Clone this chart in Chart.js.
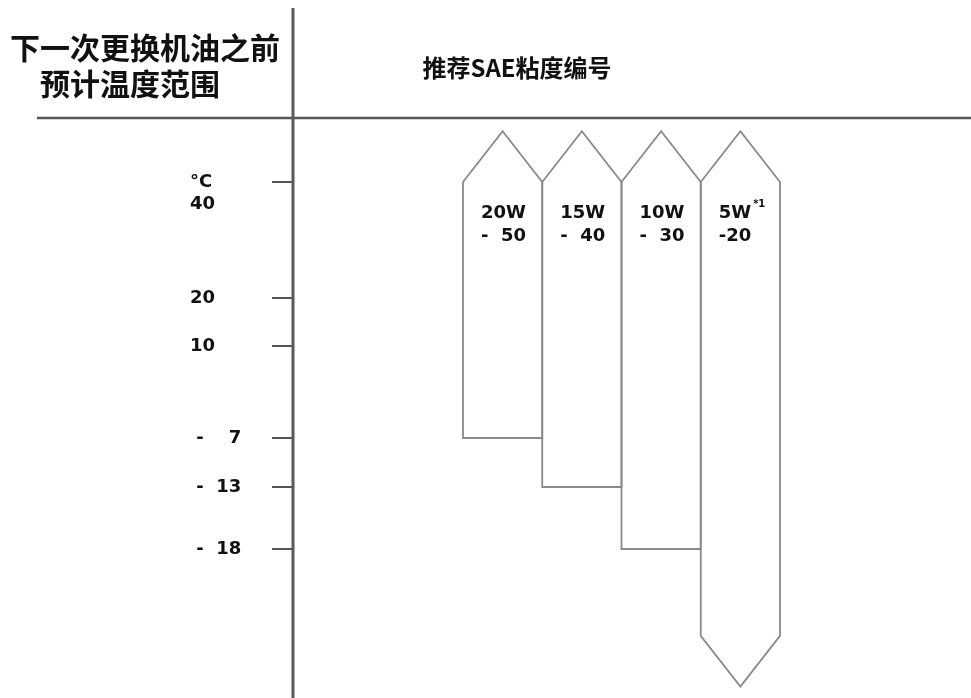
<!DOCTYPE html>
<html>
<head>
<meta charset="utf-8">
<title>推荐SAE粘度编号</title>
<script src="https://cdn.jsdelivr.net/npm/chart.js@4.4.1/dist/chart.umd.min.js"></script>
<style>
    html, body { margin: 0; padding: 0; background: #fff; }
    #wrap { width: 971px; height: 698px; }
</style>
</head>
<body>
<div id="wrap"><canvas id="graphCanvas"></canvas></div>
<script>
// header texts
const leftHeader = ['下一次更换机油之前', '预计温度范围'];
const rightHeader = '推荐SAE粘度编号';

// oil grades and the temperature range (°C) each one covers
const grades = ['20W', '15W', '10W', '5W'];
const gradeSuffix = ['-  50', '-  40', '-  30', '-20'];
const gradeNote = ['', '', '', '*1'];
const highTemp = [40, 40, 40, 40];
const lowTemp = [-7, -13, -18, -25];
const openBelow = [false, false, false, true];

// temperature axis
const tempTicks = [40, 20, 10, -7, -13, -18];
const tickText = [['', '°C', '40'], '20', '10', ' -    7', ' -  13', ' -  18'];

// the printed scale is not linear: value -> share of the plot height from the top
const axisStops = [[50, 0], [40, 0.1103], [20, 0.3103], [10, 0.3931],
                   [-7, 0.5517], [-13, 0.6362], [-18, 0.7431], [-30, 1]];

function stopToTop(v) {
    let i = 0;
    while (i < axisStops.length - 2 && v < axisStops[i + 1][0]) i++;
    const a = axisStops[i], b = axisStops[i + 1];
    const t = (a[0] - v) / (a[0] - b[0]);
    return a[1] + t * (b[1] - a[1]);
}

function topToStop(f) {
    let i = 0;
    while (i < axisStops.length - 2 && f > axisStops[i + 1][1]) i++;
    const a = axisStops[i], b = axisStops[i + 1];
    const t = (f - a[1]) / (b[1] - a[1]);
    return a[0] + t * (b[0] - a[0]);
}

class BrokenScale extends Chart.LinearScale {
    buildTicks() {
        return tempTicks.map(v => ({ value: v }));
    }
    getPixelForValue(value) {
        return this.getPixelForDecimal(1 - stopToTop(value));
    }
    getValueForPixel(pixel) {
        return topToStop(1 - this.getDecimalForPixel(pixel));
    }
}
BrokenScale.id = 'broken';
BrokenScale.defaults = { ticks: { callback: Chart.Ticks.formatters.numeric } };
Chart.register(BrokenScale);

const lineGrey = '#8a8a8a';
const tipRatio = 0.64;

const sheetPlugin = {
    id: 'sheet',
    beforeDraw(chart) {
        const ctx = chart.ctx;
        const top = chart.chartArea.top;
        ctx.save();
        ctx.fillStyle = '#fff';
        ctx.fillRect(0, 0, chart.width, chart.height);

        ctx.fillStyle = '#111';
        ctx.textBaseline = 'middle';
        ctx.textAlign = 'left';
        ctx.font = 'bold 30px "Noto Sans CJK SC"';
        ctx.fillText(leftHeader[0], 10, 48);
        ctx.fillText(leftHeader[1], 40, 84);
        ctx.textAlign = 'center';
        ctx.font = 'bold 24px "Noto Sans CJK SC"';
        ctx.fillText(rightHeader, 517, 68);

        ctx.strokeStyle = '#555';
        ctx.lineWidth = 2.5;
        ctx.beginPath();
        ctx.moveTo(37, top);
        ctx.lineTo(chart.width, top);
        ctx.stroke();
        ctx.restore();
    },
    afterDatasetsDraw(chart) {
        const ctx = chart.ctx;
        const meta = chart.getDatasetMeta(0);
        ctx.save();
        meta.data.forEach(function (bar, i) {
            const l = bar.x - bar.width / 2;
            const r = bar.x + bar.width / 2;
            const tip = bar.width * tipRatio;
            ctx.beginPath();
            ctx.moveTo(l, bar.base);
            ctx.lineTo(l, bar.y);
            ctx.lineTo(bar.x, bar.y - tip);
            ctx.lineTo(r, bar.y);
            ctx.lineTo(r, bar.base);
            if (openBelow[i]) {
                ctx.lineTo(bar.x, bar.base + tip);
            }
            ctx.closePath();
            ctx.strokeStyle = lineGrey;
            ctx.lineWidth = 1.8;
            ctx.lineJoin = 'miter';
            ctx.stroke();

            // grade label inside the bar
            const tx = l + 18;
            ctx.fillStyle = '#111';
            ctx.textAlign = 'left';
            ctx.textBaseline = 'middle';
            ctx.font = 'bold 18px "DejaVu Sans"';
            ctx.fillText(grades[i], tx, bar.y + 31);
            ctx.fillText(gradeSuffix[i], tx, bar.y + 54);
            if (gradeNote[i]) {
                const w = ctx.measureText(grades[i]).width;
                ctx.font = 'bold 10px "DejaVu Sans"';
                ctx.fillText(gradeNote[i], tx + w + 2, bar.y + 22);
            }
        });
        ctx.restore();
    },
    afterDraw(chart) {
        const ctx = chart.ctx;
        const x = chart.chartArea.left;
        ctx.save();
        ctx.strokeStyle = '#5a5a5a';
        ctx.lineWidth = 3;
        ctx.beginPath();
        ctx.moveTo(x, 8);
        ctx.lineTo(x, chart.height);
        ctx.stroke();
        ctx.restore();
    }
};

function showGraph()
{
    let graphTarget = document.getElementById('graphCanvas');
    let data = [];
    for (var i in grades) {
        data.push({ x: Number(i), y: [lowTemp[i], highTemp[i]] });
    }

    new Chart(graphTarget, {
        type: 'bar',
        data: {
            labels: grades,
            datasets: [{
                label: rightHeader,
                data: data,
                backgroundColor: 'rgba(255,255,255,0)',
                borderWidth: 0,
                barThickness: 'flex',
                barPercentage: 1,
                categoryPercentage: 1
            }]
        },
        options: {
            responsive: true,
            maintainAspectRatio: false,
            animation: false,
            layout: { padding: { left: 190, top: 118, right: 0, bottom: 0 } },
            plugins: {
                legend: { display: false },
                tooltip: { enabled: false }
            },
            scales: {
                x: {
                    type: 'linear',
                    display: false,
                    offset: false,
                    bounds: 'data',
                    min: -2.645,
                    max: 5.91,
                    ticks: { stepSize: 1, includeBounds: false }
                },
                y: {
                    type: 'broken',
                    min: -30,
                    max: 50,
                    border: { display: false },
                    grid: {
                        drawOnChartArea: false,
                        color: '#555',
                        lineWidth: 2,
                        tickLength: 21
                    },
                    ticks: {
                        autoSkip: false,
                        crossAlign: 'far',
                        color: '#111',
                        font: { family: 'DejaVu Sans', weight: 'bold', size: 18, lineHeight: 1.22 },
                        callback: function (value, index) { return tickText[index]; }
                    },
                    afterFit: function (scale) {
                        scale.width = 103;
                        scale.paddingTop = 0;
                        scale.paddingBottom = 0;
                    }
                }
            }
        },
        plugins: [sheetPlugin]
    });
}

showGraph();
</script>
</body>
</html>
